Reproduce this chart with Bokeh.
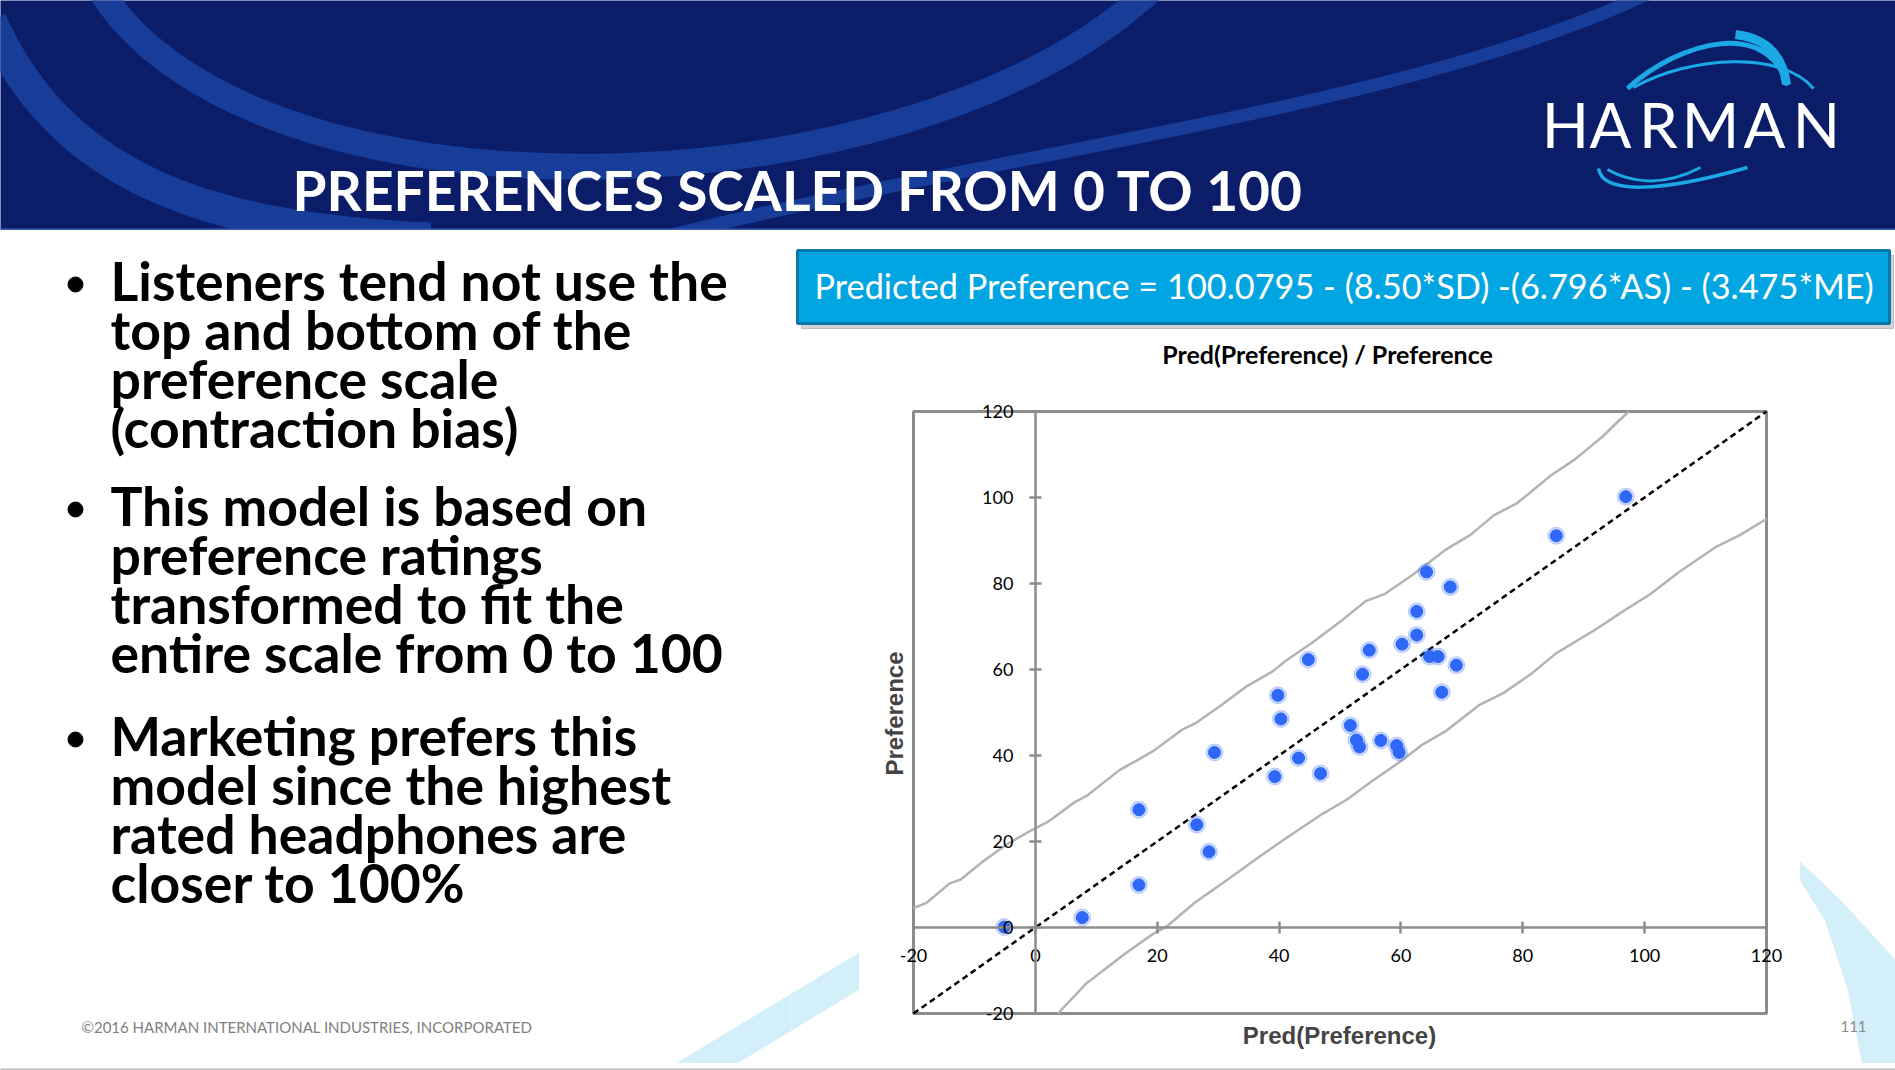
import math
from bokeh.plotting import figure
from bokeh.layouts import column, row
from bokeh.models import Range1d, Label, FixedTicker
from bokeh.core.properties import value
from bokeh.embed import file_html
from bokeh.resources import INLINE

# ------------------------------------------------------------------ data
pred_pref = [-5.1, 7.7, 17.0, 17.0, 26.5, 28.5, 29.4, 39.3, 39.8, 40.3, 43.2,
             44.8, 46.8, 51.7, 52.7, 53.2, 53.7, 54.8, 56.7, 59.3, 59.7, 60.2,
             62.6, 62.6, 64.2, 64.7, 66.1, 66.7, 68.1, 69.1, 85.5, 96.9]
preference = [0.1, 2.3, 9.9, 27.4, 23.9, 17.6, 40.7, 35.1, 54.0, 48.5, 39.4,
              62.3, 35.8, 47.0, 43.6, 42.0, 58.9, 64.5, 43.5, 42.3, 40.7, 65.9,
              73.5, 68.0, 82.7, 63.0, 63.0, 54.7, 79.2, 61.0, 91.1, 100.2]

upper_x = [-20, -17.8, -14.1, -12.2, -8.4, -4.7, -0.9, 2.1, 6.4, 8.4, 13.8, 16.1,
           19.3, 24.2, 26.4, 30.1, 34.8, 38.9, 41.0, 45.7, 50.4, 54.2, 57.4, 62.0,
           67.5, 71.4, 75.3, 79.1, 84.6, 88.5, 93.2, 95.5, 97.4]
upper_y = [4.5, 5.8, 10.2, 11.2, 15.6, 19.3, 22.4, 24.6, 29.1, 30.6, 36.6, 38.4,
           41.0, 46.1, 47.6, 51.3, 56.2, 59.5, 61.9, 66.5, 71.5, 75.9, 77.6, 82.1,
           88.0, 91.3, 95.9, 98.7, 105.1, 108.8, 114.3, 117.5, 120.0]
lower_x = [3.7, 8.3, 14.6, 19.2, 21.6, 26.2, 31.7, 37.1, 41.8, 47.2, 51.1, 55.0,
           59.7, 63.6, 67.5, 72.9, 76.8, 81.5, 85.4, 92.4, 96.3, 100.9, 105.6,
           111.8, 115.7, 120.0]
lower_y = [-20.0, -13.1, -6.2, -1.6, 0.3, 5.8, 11.3, 16.8, 21.4, 26.5, 29.7, 33.8,
           38.4, 42.6, 45.8, 51.8, 54.5, 59.1, 63.7, 69.7, 73.4, 77.5, 82.6,
           88.6, 91.3, 95.0]
identity_xy = [-20, 120]
axis_ticks = [-20, 0, 20, 40, 60, 80, 100, 120]
tick_text = {-20: "-20"}

slide_title = "PREFERENCES SCALED FROM 0 TO 100"
formula_text = "Predicted Preference = 100.0795 - (8.50*SD) -(6.796*AS) - (3.475*ME)"
chart_title = "Pred(Preference) / Preference"
x_title = "Pred(Preference)"
y_title = "Preference"
bullet_lines = [
    ["Listeners tend not use the", "top and bottom of the", "preference scale", "(contraction bias)"],
    ["This model is based on", "preference ratings", "transformed to fit the", "entire scale from 0 to 100"],
    ["Marketing prefers this", "model since the highest", "rated headphones are", "closer to 100%"],
]
footer_text = "\u00a92016 HARMAN INTERNATIONAL INDUSTRIES, INCORPORATED"
page_number = "111"
logo_letters = ["H", "A", "R", "M", "A", "N"]

# ------------------------------------------------------------------ styles
NAVY = "#0b1d69"
SWOOSH = "#173d99"
CYAN = "#1ba9e6"
PALE = "#d3eff9"
GRAY = "#8c8c8c"
DOT = "#2f68f6"

# pale stripe at the bottom left of the chart (page pixels)
stripe_x = [676, 858, 858, 736]
stripe_y = [1063, 953, 989, 1063]


def deco(x0, x1, y0, y1, bg="white"):
    f = figure(width=int(x1 - x0), height=int(y1 - y0),
               x_range=Range1d(x0, x1), y_range=Range1d(y1, y0),
               output_backend="svg", toolbar_location=None,
               x_axis_location=None, y_axis_location=None, min_border=0,
               background_fill_color=bg, border_fill_color=bg,
               outline_line_color=None)
    f.grid.visible = False
    return f


# ------------------------------------------------------------------ header
hdr = deco(0, 1895, 0, 230, NAVY)
hdr.bezier(x0=[100], y0=[-10], cx0=[250], cy0=[230], cx1=[900], cy1=[220], x1=[1150], y1=[-10],
           line_color=SWOOSH, line_width=26)
hdr.bezier(x0=[-10], y0=[20], cx0=[60], cy0=[175], cx1=[200], cy1=[228], x1=[430], y1=[238],
           line_color=SWOOSH, line_width=32)
hdr.bezier(x0=[1650], y0=[-8], cx0=[1400], cy0=[110], cx1=[1000], cy1=[150], x1=[650], y1=[240],
           line_color=SWOOSH, line_width=13)
hdr.line(x=[0, 1895], y=[229, 229], line_color="#3b5cb5", line_width=2)
hdr.text(x=[292], y=[189], text=[slide_title], text_font=value("Lato"), text_font_style="bold",
         text_font_size="55px", text_color="white", text_baseline="middle", text_align="left")
logo_x = [1565, 1610, 1658, 1710, 1764, 1816]
hdr.text(x=logo_x, y=[123] * 6, text=logo_letters, text_font=value("Lato"),
         text_font_size="62px", text_color="white", text_baseline="middle", text_align="center")
hdr.bezier(x0=[1627], y0=[88], cx0=[1680], cy0=[40], cx1=[1768], cy1=[18], x1=[1787], y1=[85],
           line_color=CYAN, line_width=5)
hdr.bezier(x0=[1735], y0=[34], cx0=[1770], cy0=[38], cx1=[1783], cy1=[60], x1=[1786], y1=[84],
           line_color=CYAN, line_width=9)
hdr.bezier(x0=[1633], y0=[87], cx0=[1690], cy0=[55], cx1=[1782], cy1=[50], x1=[1813], y1=[88],
           line_color=CYAN, line_width=3)
hdr.bezier(x0=[1598], y0=[168], cx0=[1602], cy0=[194], cx1=[1660], cy1=[192], x1=[1747], y1=[167],
           line_color=CYAN, line_width=3.5)
hdr.bezier(x0=[1607], y0=[169], cx0=[1630], cy0=[182], cx1=[1662], cy1=[187], x1=[1700], y1=[167],
           line_color=CYAN, line_width=3)

# ------------------------------------------------------------------ left text
left = deco(0, 790, 230, 1063)
left.patch(x=stripe_x, y=stripe_y, color=PALE)
first_center = [279, 504, 734]
gap = 49
for b, lines in enumerate(bullet_lines):
    ys = [first_center[b] + i * gap for i in range(len(lines))]
    left.text(x=[110] * len(lines), y=ys, text=lines, text_font=value("Lato"),
              text_font_style="bold", text_font_size="53.5px", text_color="black",
              text_baseline="middle", text_align="left")
    left.scatter(x=[75], y=[first_center[b] + 5], size=15, color="black")
left.text(x=[81], y=[1026], text=[footer_text], text_font=value("Lato"),
          text_font_size="15px", text_color="#7f7f7f", text_baseline="middle", text_align="left")

# ------------------------------------------------------------------ chart (frame covers the whole right panel)
X0, X1, Y0, Y1 = 790, 1895, 230, 1063          # panel extent in page pixels
FL, FR, FT, FB = 913, 1766, 411, 1013          # plot-area box in page pixels
SX = (FR - FL) / (axis_ticks[-1] - axis_ticks[0])
SY = (FB - FT) / (axis_ticks[-1] - axis_ticks[0])


def rx(X):
    return axis_ticks[0] + (X - FL) / SX


def ry(Y):
    return axis_ticks[0] + (FB - Y) / SY


p = figure(width=X1 - X0, height=Y1 - Y0,
           x_range=Range1d(rx(X0), rx(X1)), y_range=Range1d(ry(Y1), ry(Y0)),
           output_backend="svg", toolbar_location=None, min_border=0,
           background_fill_color="white", border_fill_color="white",
           outline_line_color=None)
p.grid.visible = False

# page decoration living in this panel
p.patch(x=[rx(v) for v in stripe_x], y=[ry(v) for v in stripe_y], color=PALE)
p.patch(x=[rx(v) for v in [1800, 1840, 1895, 1895, 1862, 1848, 1825, 1800]],
        y=[ry(v) for v in [862, 900, 960, 1063, 1063, 990, 920, 880]], color=PALE)
p.quad(left=[rx(801)], right=[rx(1893)], top=[ry(255)], bottom=[ry(328)], color="black", alpha=0.18)
p.quad(left=[rx(797)], right=[rx(1889)], top=[ry(250)], bottom=[ry(323)], fill_color="#00a5e1",
       line_color="#0b77a8", line_width=3)
p.text(x=[rx(814)], y=[ry(285)], text=[formula_text], text_font=value("Lato"),
       text_font_size="34.3px", text_color="white", text_baseline="middle", text_align="left")
p.text(x=[rx(1327)], y=[ry(353)], text=[chart_title], text_font=value("Lato"), text_font_style="bold",
       text_font_size="25px", text_color="black", text_baseline="middle", text_align="center")
p.text(x=[rx(1853)], y=[ry(1026)], text=[page_number], text_font=value("Lato"),
       text_font_size="15px", text_color="#8a8a8a", text_baseline="middle", text_align="center")

# plot-area box
p.quad(left=[axis_ticks[0]], right=[axis_ticks[-1]], bottom=[axis_ticks[0]], top=[axis_ticks[-1]],
       fill_color="white", line_color=GRAY, line_width=3)

for ax in (p.xaxis, p.yaxis):
    ax.fixed_location = 0
    ax.bounds = (axis_ticks[0], axis_ticks[-1])
    ax.ticker = FixedTicker(ticks=axis_ticks)
    ax.major_label_overrides = tick_text
    ax.axis_line_color = GRAY
    ax.axis_line_width = 2.5
    ax.major_tick_line_color = GRAY
    ax.major_tick_line_width = 2.5
    ax.major_tick_in = 6
    ax.major_tick_out = 6
    ax.minor_tick_line_color = None
    ax.major_label_text_font = "Lato"
    ax.major_label_text_font_size = "18px"
    ax.major_label_text_color = "black"
p.xaxis.major_label_standoff = 15
p.yaxis.major_label_standoff = 16

p.line(upper_x, upper_y, line_color="#b3b3b3", line_width=2.5)
p.line(lower_x, lower_y, line_color="#b3b3b3", line_width=2.5)
p.line(identity_xy, identity_xy, line_color="black", line_width=2.5, line_dash="6 4")
p.scatter(pred_pref, preference, size=17, color=DOT, alpha=0.25)
p.scatter(pred_pref, preference, size=12, color=DOT)

p.add_layout(Label(x=rx(1339), y=ry(1034.5), text=x_title, text_align="center", text_baseline="middle",
                   text_font="Liberation Sans", text_font_style="bold", text_font_size="24px"))
p.add_layout(Label(x=rx(894), y=ry(713), text=y_title, angle=math.pi / 2, text_align="center",
                   text_baseline="middle", text_font="Liberation Sans", text_font_style="bold",
                   text_font_size="24px"))

# ------------------------------------------------------------------ bottom bar
bar = deco(0, 1895, 1063, 1070, "#bdbdbd")

layout = column(hdr, row(left, p), bar)

open("out.html", "w").write(file_html(layout, INLINE))
